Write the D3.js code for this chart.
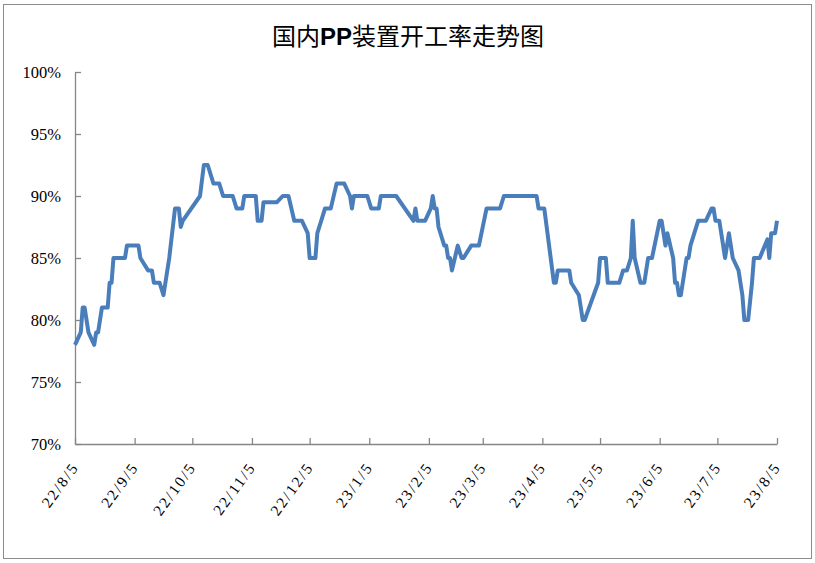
<!DOCTYPE html>
<html>
<head>
<meta charset="utf-8">
<script src="https://cdn.jsdelivr.net/npm/d3@7"></script>
<style>
  html, body { margin: 0; padding: 0; background: #fff; }
  svg { display: block; }
</style>
</head>
<body>
<svg id="chart" width="815" height="563"></svg>
<script>
const title = "国内PP装置开工率走势图";
const dates = [
  "2022-08-05","2022-08-08","2022-08-09","2022-08-10","2022-08-12","2022-08-15","2022-08-16","2022-08-17","2022-08-19","2022-08-22",
  "2022-08-23","2022-08-24","2022-08-25","2022-08-31","2022-09-01","2022-09-07","2022-09-08","2022-09-10","2022-09-12","2022-09-14",
  "2022-09-15","2022-09-18","2022-09-20","2022-09-21","2022-09-23","2022-09-26","2022-09-28","2022-09-29","2022-09-30","2022-10-09",
  "2022-10-11","2022-10-13","2022-10-16","2022-10-19","2022-10-21","2022-10-26","2022-10-28","2022-10-31","2022-11-01","2022-11-07",
  "2022-11-08","2022-11-10","2022-11-11","2022-11-18","2022-11-21","2022-11-24","2022-11-27","2022-12-01","2022-12-04","2022-12-05",
  "2022-12-08","2022-12-09","2022-12-11","2022-12-13","2022-12-16","2022-12-19","2022-12-23","2022-12-26","2022-12-27","2022-12-28",
  "2023-01-04","2023-01-06","2023-01-10","2023-01-11","2023-01-19","2023-01-28","2023-01-29","2023-01-30","2023-02-03","2023-02-06",
  "2023-02-07","2023-02-08","2023-02-09","2023-02-10","2023-02-13","2023-02-14","2023-02-15","2023-02-16","2023-02-17","2023-02-20",
  "2023-02-22","2023-02-23","2023-02-27","2023-03-03","2023-03-07","2023-03-14","2023-03-16","2023-04-02","2023-04-03","2023-04-06",
  "2023-04-11","2023-04-12","2023-04-13","2023-04-19","2023-04-20","2023-04-24","2023-04-26","2023-04-27","2023-05-04","2023-05-05",
  "2023-05-08","2023-05-09","2023-05-15","2023-05-17","2023-05-19","2023-05-21","2023-05-22","2023-05-23","2023-05-26","2023-05-28",
  "2023-05-30","2023-06-01","2023-06-05","2023-06-06","2023-06-08","2023-06-09","2023-06-12","2023-06-13","2023-06-14","2023-06-15",
  "2023-06-16","2023-06-19","2023-06-20","2023-06-21","2023-06-25","2023-06-29","2023-07-02","2023-07-03","2023-07-04","2023-07-06",
  "2023-07-09","2023-07-11","2023-07-13","2023-07-16","2023-07-18","2023-07-19","2023-07-21","2023-07-23","2023-07-24","2023-07-27",
  "2023-07-31","2023-08-01","2023-08-02","2023-08-04","2023-08-05"
];
const rates = [
  78,79,81,81,79,78,79,79,81,81,
  83,83,85,85,86,86,85,84.5,84,84,
  83,83,82,83,85,89,89,87.5,88,90,
  92.5,92.5,91,91,90,90,89,89,90,90,
  88,88,89.5,89.5,90,90,88,88,87,85,
  85,87,88,89,89,91,91,90,89,90,
  90,89,89,90,90,88,89,88,88,89,
  90,89,89,87.5,86,86,85,85,84,86,
  85,85,86,86,89,89,90,90,89,89,
  83,83,84,84,83,82,80,80,83,85,
  85,83,83,84,84,85,88,85,83,83,
  85,85,88,88,86,87,85,83,83,82,
  82,85,85,86,88,88,89,89,88,88,
  85,87,85,84,82,80,80,83,85,85,
  86.5,85,87,87,88
];
const xTickLabels = ["22/8/5","22/9/5","22/10/5","22/11/5","22/12/5","23/1/5","23/2/5","23/3/5","23/4/5","23/5/5","23/6/5","23/7/5","23/8/5"];
const yTicks = [70, 75, 80, 85, 90, 95, 100];

const parse = d3.timeParse("%Y-%m-%d");
const data = dates.map((d, i) => ({ date: parse(d), value: rates[i] }));
const tickDates = xTickLabels.map(s => {
  const [yy, m, d] = s.split("/").map(Number);
  return new Date(2000 + yy, m - 1, d);
});

const svg = d3.select("#chart");
const W = 815, H = 563;
const plotL = 75, plotR = 777, plotT = 72, plotB = 444;

svg.append("rect").attr("x", 3.5).attr("y", 4.5).attr("width", 808).attr("height", 554)
  .attr("fill", "#fff").attr("stroke", "#8c8c8c").attr("stroke-width", 1);

const x = d3.scaleTime().domain([tickDates[0], tickDates[tickDates.length - 1]]).range([plotL, plotR]);
const y = d3.scaleLinear().domain([70, 100]).range([plotB, plotT]);

// Title
const t = svg.append("text").attr("x", W / 2 + 0.5).attr("y", 45)
  .attr("text-anchor", "middle").attr("font-size", 24).attr("fill", "#000")
  .attr("font-family", "'Noto Sans CJK SC', sans-serif");
t.append("tspan").text(title.slice(0, 2));
t.append("tspan").attr("font-family", "'Liberation Sans', Arial, sans-serif").attr("font-weight", "bold").text(title.slice(2, 4));
t.append("tspan").text(title.slice(4));

// Y axis
const yAxis = d3.axisLeft(y).tickValues(yTicks).tickSizeInner(-6).tickSizeOuter(0).tickPadding(14)
  .tickFormat(d => d + "%");
const gy = svg.append("g").attr("transform", `translate(${plotL},0)`).call(yAxis);
gy.select(".domain").attr("stroke", "#868686").attr("stroke-width", 1.3);
gy.selectAll(".tick line").attr("stroke", "#868686").attr("stroke-width", 1.3);
gy.selectAll(".tick text").attr("font-family", "'Liberation Serif', 'Times New Roman', serif")
  .attr("font-size", 16.5).attr("fill", "#000").attr("dy", "0.34em");

// X axis
const xAxis = d3.axisBottom(x).tickValues(tickDates).tickSizeInner(-6).tickSizeOuter(0).tickFormat((d, i) => xTickLabels[i]);
const gx = svg.append("g").attr("transform", `translate(0,${plotB})`).call(xAxis);
gx.select(".domain").attr("stroke", "#868686").attr("stroke-width", 1.3);
gx.selectAll(".tick line").attr("stroke", "#868686").attr("stroke-width", 1.3);
gx.selectAll(".tick text")
  .attr("font-family", "'Liberation Serif', 'Times New Roman', serif")
  .attr("font-size", 15.5).attr("fill", "#000")
  .attr("letter-spacing", 2)
  .attr("text-anchor", "end")
  .attr("y", 0).attr("dy", 0)
  .attr("transform", "translate(4,23) rotate(-54)");

// Line
const line = d3.line().x(d => x(d.date)).y(d => y(d.value));
svg.append("path").datum(data).attr("d", line)
  .attr("fill", "none").attr("stroke", "#4a7ebb").attr("stroke-width", 4)
  .attr("stroke-linejoin", "round").attr("stroke-linecap", "butt");
</script>
</body>
</html>
